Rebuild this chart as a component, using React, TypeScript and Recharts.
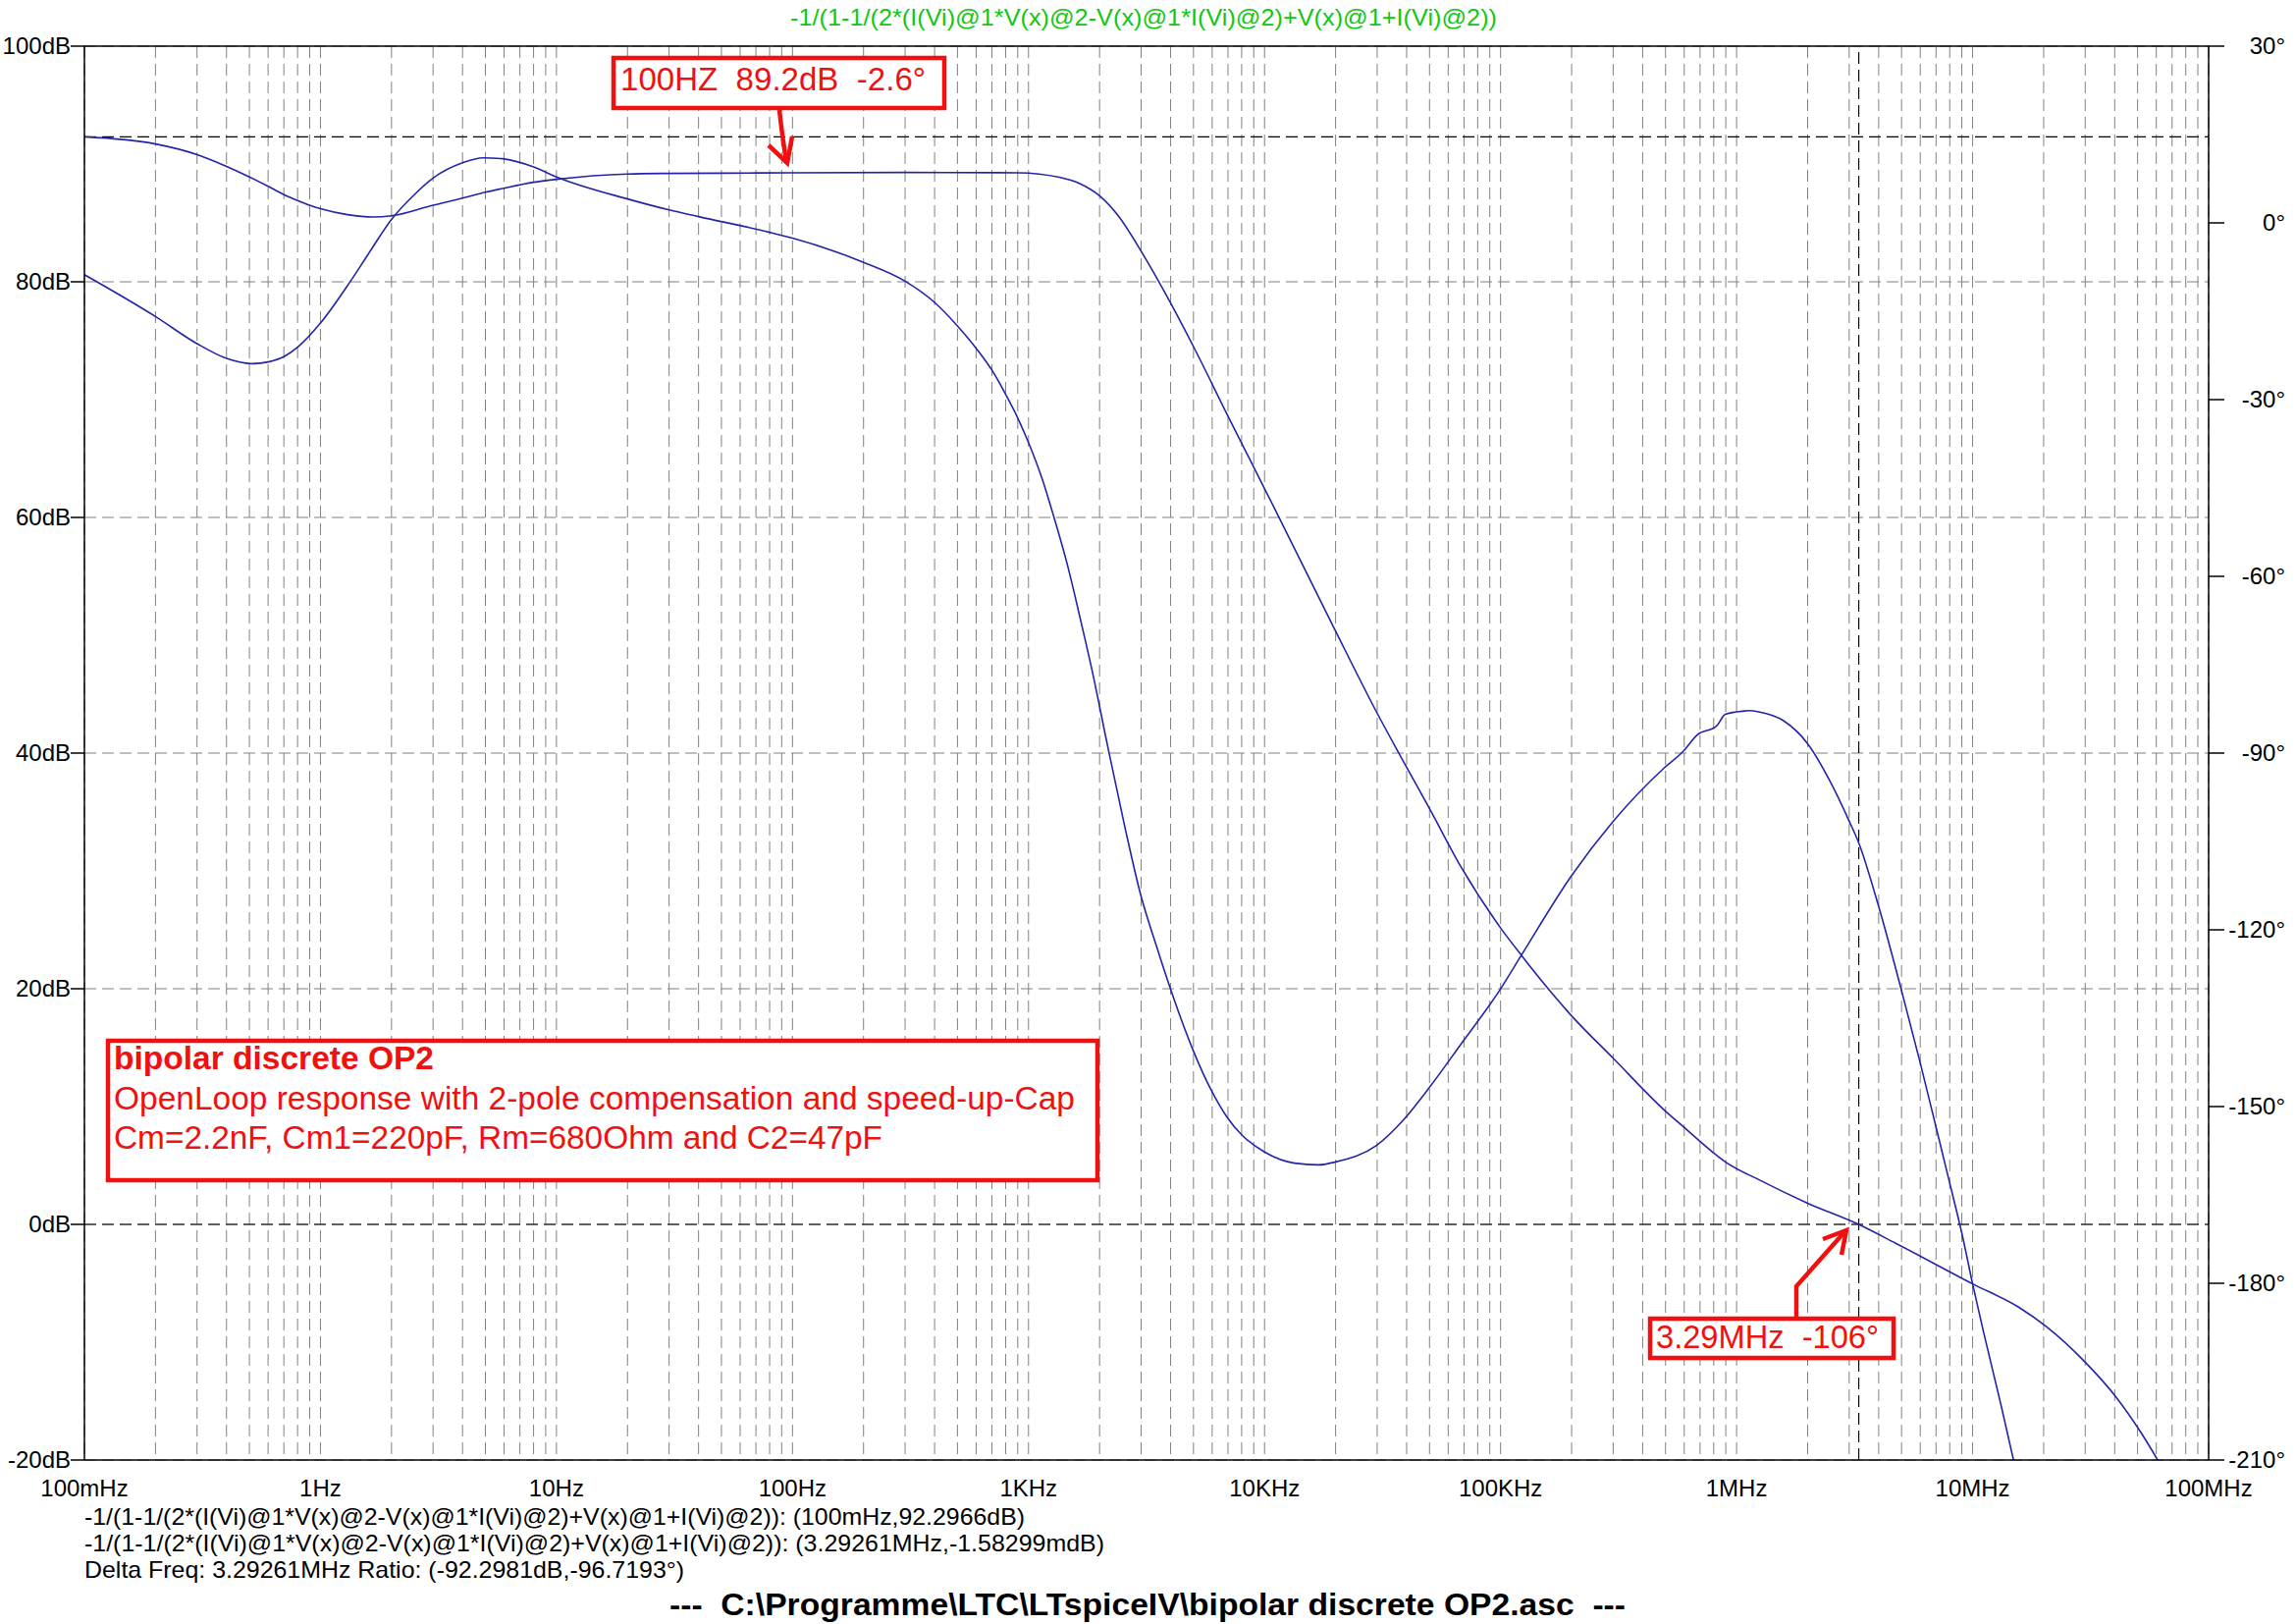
import { LineChart, Line, XAxis, YAxis, CartesianGrid, ReferenceLine } from "recharts";

// LTspice open-loop Bode plot: bipolar discrete OP2

const TRACE_NAME = "-1/(1-1/(2*(I(Vi)@1*V(x)@2-V(x)@1*I(Vi)@2)+V(x)@1+I(Vi)@2))";

const FREQ_TICKS = [0.1, 1, 10, 100, 1e3, 1e4, 1e5, 1e6, 1e7, 1e8];
const FREQ_LABELS = ["100mHz", "1Hz", "10Hz", "100Hz", "1KHz", "10KHz", "100KHz", "1MHz", "10MHz", "100MHz"];
const GRID_STEPS = [1, 2, 3, 4, 5, 6, 7, 8, 9];

const DB_TICKS = [-20, 0, 20, 40, 60, 80, 100];
const DB_LABELS = ["-20dB", "0dB", "20dB", "40dB", "60dB", "80dB", "100dB"];
const DEG_TICKS = [30, 0, -30, -60, -90, -120, -150, -180, -210];
const DEG_LABELS = ["30°", "0°", "-30°", "-60°", "-90°", "-120°", "-150°", "-180°", "-210°"];

// magnitude trace (left axis)
const MAG_FREQ = [
    0.1, 0.2, 0.3, 0.4, 0.5, 0.6, 0.7, 0.8, 0.9, 1, 1.3, 1.67, 2, 3, 4, 5, 6, 8, 10, 20, 30, 50, 100, 300, 900,
    1350, 1640, 2000, 2400, 3000, 4000, 5000, 7000, 11000, 19600, 29800, 38000, 50300, 67700, 99700, 123000,
    200000, 300000, 494000, 594000, 795000, 896000, 1.24e6, 2e6, 3.29e6, 4.72e6, 1e7, 1.56e7, 2.06e7, 3e7,
    4.07e7, 5.2e7, 6.19e7,
];
const MAG_DB = [
    92.3, 91.7, 90.8, 89.8, 88.9, 88.1, 87.4, 86.9, 86.5, 86.2, 85.7, 85.5, 85.6, 86.5, 87.1, 87.6, 87.95, 88.45,
    88.7, 89.15, 89.2, 89.22, 89.25, 89.28, 89.25, 88.87, 88.36, 87.3, 85.6, 82.6, 78.2, 74.5, 68.6, 60.8, 50.7,
    43.5, 39.6, 35.2, 30.4, 25.2, 22.8, 17.7, 14.1, 9.7, 8.3, 6.1, 5.3, 3.8, 1.8, 0, -1.6, -5.05, -7.0, -8.7,
    -11.7, -14.7, -17.75, -20.25,
];

// phase trace (right axis)
const PHASE_FREQ = [
    0.1, 0.2, 0.3, 0.4, 0.52, 0.6, 0.7, 0.8, 1, 1.33, 1.6, 2, 2.5, 3, 4, 4.9, 5.9, 8, 10, 20, 30, 40, 80, 100,
    200, 300, 400, 500, 600, 715, 800, 905, 1000, 1150, 1263, 1484, 1655, 1853, 2166, 2546, 2985, 3500, 4000,
    5000, 5940, 6990, 8000, 10000, 13400, 16900, 20000, 29800, 38900, 50300, 67700, 99700, 123000, 200000,
    300000, 494000, 594000, 682000, 822000, 896000, 1e6, 1.13e6, 1.24e6, 1.58e6, 2e6, 2.46e6, 3.02e6, 3.29e6,
    3.97e6, 5.02e6, 6e6, 7e6, 7.9e6, 9.06e6, 1e7, 1.11e7, 1.32e7, 1.5e7,
];
const PHASE_DEG = [
    -8.8, -15.9, -20.5, -23.0, -23.9, -23.6, -22.7, -21.1, -17.0, -10.1, -5.2, 0.6, 4.8, 7.6, 10.2, 11.05, 10.9,
    9.5, 7.8, 4.06, 2.2, 1.06, -1.6, -2.6, -6.7, -9.9, -13.5, -17.5, -21.3, -25.6, -29.1, -33.3, -37.3, -43.8,
    -49.1, -59.1, -67.1, -75.7, -88.9, -102.1, -114.0, -123.0, -130.1, -140.6, -147.2, -152.0, -154.8, -157.7,
    -159.6, -159.9, -159.4, -156.6, -152.2, -146.6, -139.5, -130.1, -124.2, -110.8, -101.6, -92.5, -89.7,
    -86.9, -85.4, -83.4, -83.0, -82.8, -83.0, -84.5, -88.4, -94.4, -101.8, -105.2, -115.6, -130.6, -142.6,
    -153.5, -162.1, -172.0, -180.1, -188.1, -200.7, -210.5,
];

// cursors
const CURSOR1_DB = 92.2966;
const CURSOR2_FREQ = 3.29261e6;
const CURSOR2_DB = -0.00158;

const magData = MAG_FREQ.map((f, i) => ({ f, db: MAG_DB[i] }));
const phaseData = PHASE_FREQ.map((f, i) => ({ f, deg: PHASE_DEG[i] }));
const gridFreqs = FREQ_TICKS.slice(0, -1).flatMap((d) => GRID_STEPS.map((m) => d * m)).concat([1e8]);

const FONT = "'Liberation Sans', Arial, Helvetica, sans-serif";
const TRACE = "#2424a8";
const RED = "#f01010";

function FreqTick(props: any) {
    const { x, y, payload } = props;
    const i = FREQ_TICKS.findIndex((t) => Math.abs(t - payload.value) / t < 1e-6);
    if (i < 0) return null;
    return (
        <text x={x} y={y + 37} textAnchor="middle" fontSize={24} fontFamily={FONT} fill="#000">
            {FREQ_LABELS[i]}
        </text>
    );
}

function DbTick(props: any) {
    const { x, y, payload } = props;
    const i = DB_TICKS.indexOf(payload.value);
    return (
        <g>
            <line x1={x - 14} x2={x} y1={y} y2={y} stroke="#000" strokeWidth={1.5} />
            <text x={x - 14} y={y + 8} textAnchor="end" fontSize={24} fontFamily={FONT} fill="#000">
                {DB_LABELS[i]}
            </text>
        </g>
    );
}

function DegTick(props: any) {
    const { x, y, payload } = props;
    const i = DEG_TICKS.indexOf(payload.value);
    return (
        <g>
            <line x1={x} x2={x + 16} y1={y} y2={y} stroke="#000" strokeWidth={1.5} />
            <text x={2328} y={y + 8} textAnchor="end" fontSize={24} fontFamily={FONT} fill="#000">
                {DEG_LABELS[i]}
            </text>
        </g>
    );
}

function Overlay() {
    return (
        <svg
            width={2339}
            height={1654}
            style={{ position: "absolute", left: 0, top: 0, pointerEvents: "none" }}
            fontFamily={FONT}
        >
            <text x={1165} y={26} textAnchor="middle" fontSize={24} fill="#10c810" textLength={720} lengthAdjust="spacingAndGlyphs">
                {TRACE_NAME}
            </text>

            {/* marker 100Hz */}
            <rect x={625} y={59} width={337} height={51} fill="#fff" stroke={RED} strokeWidth={4.5} />
            <text x={632} y={92} fontSize={33} fill={RED} textLength={311} lengthAdjust="spacingAndGlyphs" style={{ whiteSpace: "pre" }}>
                {"100HZ  89.2dB  -2.6°"}
            </text>
            <path d="M794 112 Q797 140 801 164" fill="none" stroke={RED} strokeWidth={4.5} />
            <path d="M783 148 L802 166 L807 139" fill="none" stroke={RED} strokeWidth={4.5} />

            {/* marker 3.29MHz */}
            <rect x={1681} y={1343} width={248} height={40} fill="#fff" stroke={RED} strokeWidth={4.5} />
            <text x={1687} y={1373} fontSize={33} fill={RED} textLength={227} lengthAdjust="spacingAndGlyphs" style={{ whiteSpace: "pre" }}>
                {"3.29MHz  -106°"}
            </text>
            <path d="M1830 1341 L1830 1310 L1878 1256" fill="none" stroke={RED} strokeWidth={4.5} />
            <path d="M1857 1262 L1881 1253 L1876 1278" fill="none" stroke={RED} strokeWidth={4.5} />

            {/* description box */}
            <rect x={110} y={1060} width={1008} height={142} fill="#fff" stroke={RED} strokeWidth={4.5} />
            <text x={116} y={1089} fontSize={33} fontWeight="bold" fill={RED} textLength={326} lengthAdjust="spacingAndGlyphs">
                bipolar discrete OP2
            </text>
            <text x={116} y={1130} fontSize={33} fill={RED} textLength={979} lengthAdjust="spacingAndGlyphs">
                OpenLoop response with 2-pole compensation and speed-up-Cap
            </text>
            <text x={116} y={1170} fontSize={33} fill={RED} textLength={783} lengthAdjust="spacingAndGlyphs">
                Cm=2.2nF, Cm1=220pF, Rm=680Ohm and C2=47pF
            </text>

            {/* cursor readout */}
            <text x={86} y={1553} fontSize={24} fill="#000" textLength={958} lengthAdjust="spacingAndGlyphs">
                {TRACE_NAME + ": (100mHz,92.2966dB)"}
            </text>
            <text x={86} y={1580} fontSize={24} fill="#000" textLength={1039} lengthAdjust="spacingAndGlyphs">
                {TRACE_NAME + ": (3.29261MHz,-1.58299mdB)"}
            </text>
            <text x={86} y={1607} fontSize={24} fill="#000" textLength={611} lengthAdjust="spacingAndGlyphs">
                Delta Freq: 3.29261MHz Ratio: (-92.2981dB,-96.7193°)
            </text>

            <text x={1169} y={1645} textAnchor="middle" fontSize={31} fontWeight="bold" fill="#000" textLength={974} lengthAdjust="spacingAndGlyphs" style={{ whiteSpace: "pre" }}>
                {"---  C:\\Programme\\LTC\\LTspiceIV\\bipolar discrete OP2.asc  ---"}
            </text>
        </svg>
    );
}

export default function App() {
    return (
        <div style={{ position: "absolute", left: 0, top: 0, width: 2339, height: 1654, background: "#fff" }}>
            <LineChart width={2339} height={1654} margin={{ top: 47, right: 0, bottom: 0, left: 0 }}>
                <CartesianGrid
                    xAxisId="f"
                    yAxisId="db"
                    stroke="#808080"
                    strokeDasharray="12 6"
                    strokeWidth={1}
                />
                <XAxis
                    xAxisId="f"
                    dataKey="f"
                    type="number"
                    scale="log"
                    domain={[0.1, 1e8]}
                    ticks={gridFreqs}
                    interval={0}
                    allowDataOverflow
                    height={167}
                    tickLine={false}
                    tickSize={0}
                    tickMargin={0}
                    tick={<FreqTick />}
                    axisLine={{ stroke: "#000", strokeWidth: 1.5 }}
                />
                <YAxis
                    yAxisId="db"
                    domain={[-20, 100]}
                    ticks={DB_TICKS}
                    interval={0}
                    allowDataOverflow
                    width={86}
                    tickLine={false}
                    tickSize={0}
                    tickMargin={0}
                    tick={<DbTick />}
                    axisLine={{ stroke: "#000", strokeWidth: 1.5 }}
                />
                <YAxis
                    yAxisId="deg"
                    orientation="right"
                    domain={[-210, 30]}
                    ticks={DEG_TICKS}
                    interval={0}
                    allowDataOverflow
                    width={89}
                    tickLine={false}
                    tickSize={0}
                    tickMargin={0}
                    tick={<DegTick />}
                    axisLine={{ stroke: "#000", strokeWidth: 1.5 }}
                />
                <ReferenceLine xAxisId="f" yAxisId="db" y={100} stroke="#000" strokeWidth={1.5} />
                <ReferenceLine xAxisId="f" yAxisId="db" y={CURSOR1_DB} stroke="#000" strokeDasharray="12 6" strokeWidth={1.2} />
                <ReferenceLine xAxisId="f" yAxisId="db" y={CURSOR2_DB} stroke="#000" strokeDasharray="12 6" strokeWidth={1.2} />
                <ReferenceLine xAxisId="f" yAxisId="db" x={CURSOR2_FREQ} stroke="#000" strokeDasharray="12 6" strokeWidth={1.2} />
                <Line
                    xAxisId="f"
                    yAxisId="db"
                    data={magData}
                    dataKey="db"
                    type="monotone"
                    stroke={TRACE}
                    strokeWidth={1.6}
                    dot={false}
                    isAnimationActive={false}
                />
                <Line
                    xAxisId="f"
                    yAxisId="deg"
                    data={phaseData}
                    dataKey="deg"
                    type="monotone"
                    stroke={TRACE}
                    strokeWidth={1.6}
                    dot={false}
                    isAnimationActive={false}
                />
            </LineChart>
            <Overlay />
        </div>
    );
}
